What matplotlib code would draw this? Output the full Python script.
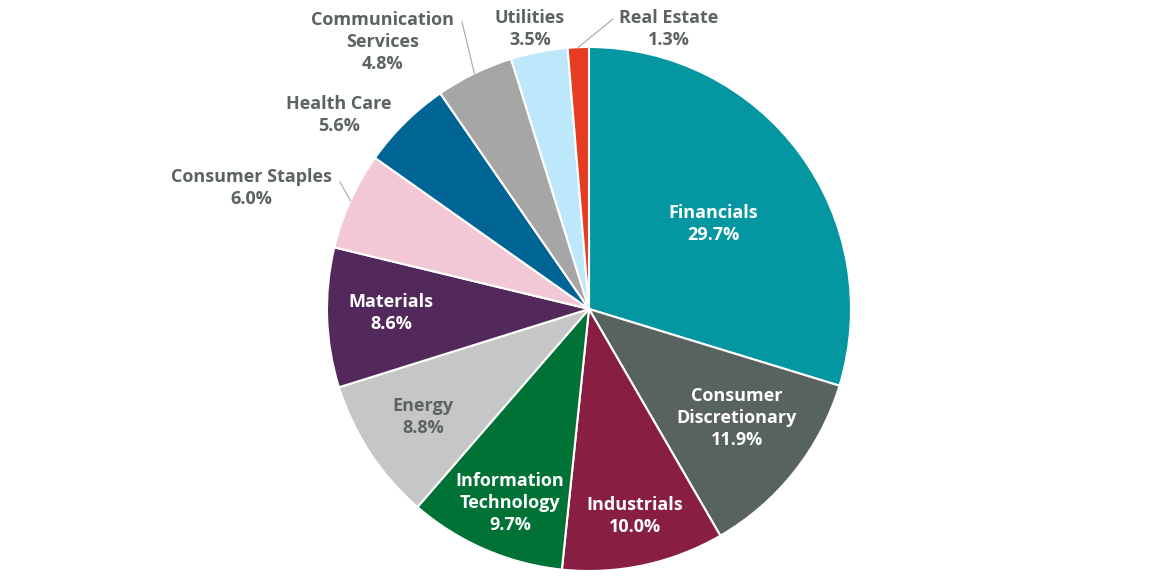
import matplotlib.pyplot as plt
import numpy as np

SECTORS = [
    "Financials", "Consumer\nDiscretionary", "Industrials", "Information\nTechnology",
    "Energy", "Materials", "Consumer Staples", "Health Care",
    "Communication\nServices", "Utilities", "Real Estate",
]
WEIGHTS = [29.7, 11.9, 10.0, 9.7, 8.8, 8.6, 6.0, 5.6, 4.8, 3.5, 1.3]
COLORS = [
    "#0597a1", "#58625f", "#891e43", "#007236", "#c6c6c6", "#53295b",
    "#f2c8d6", "#006494", "#a6a6a6", "#bde8fb", "#e63c22",
]

# label centres in pixels (layout only)
LABEL_POS = [
    (713, 224), (737, 418), (635, 516), (510, 503), (423, 417), (391, 313),
    (251, 188), (339, 115), (383, 42), (530, 29), (669, 29),
]
WHITE_TEXT = {0, 1, 2, 3, 5}
LEADERS = {6: (340, 182), 8: (462, 22), 10: (613, 19)}

W, H = 1152, 577
CX, CY, R = 589, 309, 262
GREY = "#5b6461"

plt.rcParams["font.family"] = ["Open Sans", "DejaVu Sans"]

fig = plt.figure(figsize=(W / 100, H / 100), dpi=100)
ax = fig.add_axes([0, 0, 1, 1])

# y axis is inverted below, so -90 is the top and counterclock runs clockwise on screen
wedges, _ = ax.pie(
    WEIGHTS,
    colors=COLORS,
    startangle=-90,
    counterclock=True,
    center=(CX, CY),
    radius=R,
    wedgeprops=dict(edgecolor="white", linewidth=1.5),
    frame=True,
)
ax.set_xlim(0, W)
ax.set_ylim(H, 0)
ax.set_aspect("equal")
ax.axis("off")

for i, (name, w) in enumerate(zip(SECTORS, WEIGHTS)):
    x, y = LABEL_POS[i]
    color = "white" if i in WHITE_TEXT else GREY
    ax.text(x, y, f"{name}\n{w:.1f}%", ha="center", va="center",
            fontsize=13, fontweight="bold", color=color, linespacing=1.3)

for i, (lx, ly) in LEADERS.items():
    wd = wedges[i]
    mid = np.deg2rad((wd.theta1 + wd.theta2) / 2)
    px = CX + R * np.cos(mid)
    py = CY + R * np.sin(mid)
    ax.plot([lx, px], [ly, py], color="#a6a6a6", lw=0.8)

fig.savefig("out.png", dpi=100)
